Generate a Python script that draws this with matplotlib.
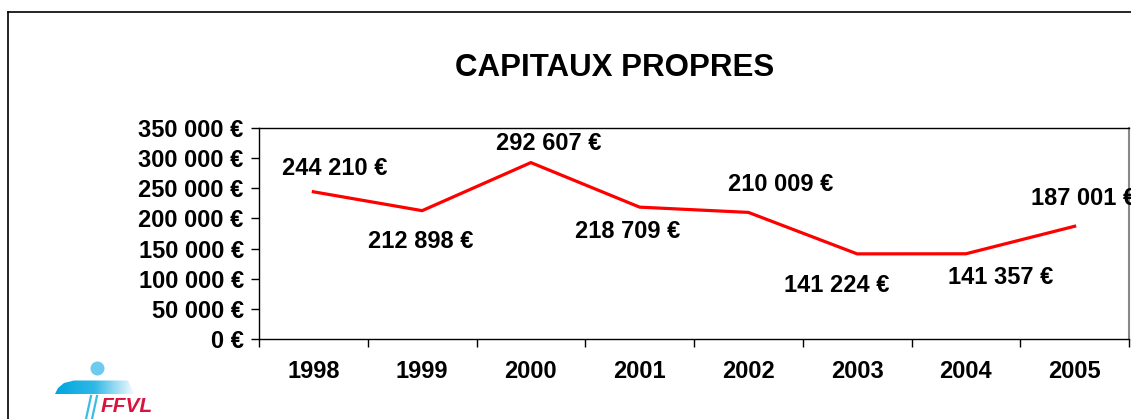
import matplotlib.pyplot as plt
import numpy as np
from matplotlib.lines import Line2D
from matplotlib.patches import Circle, Polygon
from matplotlib.colors import LinearSegmentedColormap

plt.rcParams['font.family'] = ['Liberation Sans', 'DejaVu Sans']

years = ['1998', '1999', '2000', '2001', '2002', '2003', '2004', '2005']
capitaux = [244210, 212898, 292607, 218709, 210009, 141224, 141357, 187001]
yticks = [0, 50000, 100000, 150000, 200000, 250000, 300000, 350000]
# label offsets (pixels) relative to each point
lab_off = [(21, 23), (-1, -31), (18, 19), (-12, -24), (32, 28), (-20, -32), (35, -24), (9, 28)]


def euro(v):
    return '{:,}'.format(int(v)).replace(',', ' ') + ' €'


fig = plt.figure(figsize=(11.31, 4.19), dpi=100)
ax = fig.add_axes([259 / 1131, 1 - 339 / 419, 870 / 1131, 211 / 419])

x = np.arange(len(years))
ax.plot(x, capitaux, color='#ff0000', lw=2.3, solid_joinstyle='miter')

for xi, v, (dx, dy) in zip(x, capitaux, lab_off):
    ax.annotate(euro(v), (xi, v), xytext=(dx, dy), textcoords='offset pixels',
                ha='center', va='center', fontsize=17, fontweight='bold',
                annotation_clip=False)

ax.set_xlim(-0.5, len(years) - 0.5)
ax.set_ylim(0, 350000)
ax.set_yticks(yticks)
ax.set_yticklabels([euro(v) for v in yticks], fontsize=17, fontweight='bold')
ax.set_xticks(x)
ax.set_xticklabels(years, fontsize=17, fontweight='bold')
ax.set_xticks(np.arange(len(years) + 1) - 0.5, minor=True)
ax.tick_params(axis='x', which='major', length=0, pad=15)
ax.tick_params(axis='x', which='minor', length=6, direction='out', width=1)
ax.tick_params(axis='y', length=6, direction='out', width=1, pad=5)
for s in ['top', 'left', 'bottom']:
    ax.spines[s].set_color('black')
    ax.spines[s].set_linewidth(1)
ax.spines['right'].set_color('#888888')
ax.spines['right'].set_linewidth(1.5)

fig.text(615 / 1131, 1 - 68 / 419, 'CAPITAUX PROPRES', ha='center', va='center',
         fontsize=22.5, fontweight='bold')

# overlay in pixel units for frame and logo
ov = fig.add_axes([0, 0, 1, 1], zorder=-1)
ov.set_xlim(0, 1131)
ov.set_ylim(419, 0)
ov.axis('off')
ov.patch.set_alpha(0)

# outer frame (top and left edges)
ov.plot([8, 1131], [12, 12], color='black', lw=1.2)
ov.plot([8, 8], [12, 419], color='black', lw=1.2)

# FFVL logo (approximation)
ov.add_patch(Circle((97.5, 368.5), 7, color='#6ccbee', ec='none'))
wing = Polygon([(55, 394), (58, 388), (64, 383), (74, 380.5), (128, 380.5),
                (134, 394), (55, 394)], closed=True, fc='none', ec='none')
ov.add_patch(wing)
cmap = LinearSegmentedColormap.from_list('wing', ['#00a6df', '#30b8e6', '#f2fafd'])
grad = ov.imshow(np.linspace(0, 1, 100)[None, :], cmap=cmap, aspect='auto',
                 extent=(55, 134, 394, 380), interpolation='bilinear')
grad.set_clip_path(wing)
ov.set_xlim(0, 1131)
ov.set_ylim(419, 0)
for x0 in (91, 97):
    ov.plot([x0, x0 - 5], [396, 419], color='#3dbbe8', lw=1.6)
ov.text(101, 406, 'FFVL', ha='left', va='center', fontsize=15,
        fontweight='bold', style='italic', color='#d9123f')

fig.savefig('out.png', dpi=100)
